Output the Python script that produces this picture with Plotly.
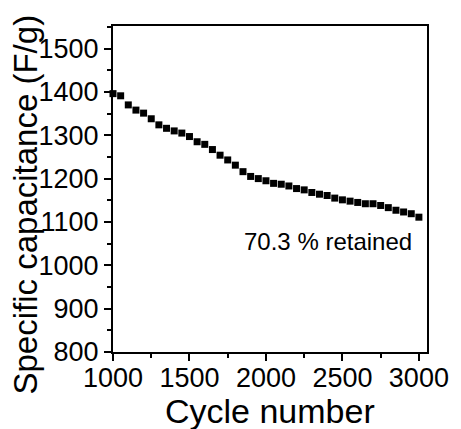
import plotly.graph_objects as go

cycles = [1000, 1050, 1100, 1150, 1200, 1250, 1300, 1350, 1400, 1450,
          1500, 1550, 1600, 1650, 1700, 1750, 1800, 1850, 1900, 1950,
          2000, 2050, 2100, 2150, 2200, 2250, 2300, 2350, 2400, 2450,
          2500, 2550, 2600, 2650, 2700, 2750, 2800, 2850, 2900, 2950, 3000]
capacitance = [1396, 1391, 1370, 1358, 1351, 1338, 1324, 1316, 1310, 1305,
               1297, 1285, 1279, 1267, 1254, 1243, 1231, 1216, 1205, 1200,
               1195, 1189, 1187, 1183, 1177, 1174, 1168, 1164, 1161, 1155,
               1151, 1148, 1145, 1142, 1142, 1138, 1133, 1127, 1123, 1119, 1111]
x_ticks = [1000, 1500, 2000, 2500, 3000]
y_ticks = [800, 900, 1000, 1100, 1200, 1300, 1400, 1500]

FONT = "Liberation Sans, Arial, sans-serif"

fig = go.Figure()
fig.add_trace(go.Scatter(
    x=cycles, y=capacitance, mode="markers",
    marker=dict(symbol="square", size=7, color="black", line=dict(width=0)),
    cliponaxis=False, showlegend=False,
))

axis_common = dict(
    showline=True, linecolor="black", linewidth=2, mirror=True,
    showgrid=False, zeroline=False,
    ticks="outside", ticklen=7, tickwidth=2, tickcolor="black",
    tickfont=dict(family=FONT, size=27, color="black"),
)

fig.update_xaxes(range=[1000, 3053], tickvals=x_ticks, ticklabelstandoff=-6,
                 minor=dict(ticks="outside", ticklen=4, tickwidth=2, tickcolor="black", dtick=250),
                 **axis_common)
fig.update_yaxes(range=[800, 1552], tickvals=y_ticks,
                 minor=dict(ticks="outside", ticklen=4, tickwidth=2, tickcolor="black", dtick=50),
                 **axis_common)

fig.add_annotation(x=2405, y=1054, xref="x", yref="y", text="70.3 % retained",
                   showarrow=False, font=dict(family=FONT, size=24, color="black"))
fig.add_annotation(x=274, y=411, xref="paper", yref="paper", text="Cycle number",
                   showarrow=False, font=dict(family=FONT, size=34, color="black"))
fig.add_annotation(x=22, y=205, xref="paper", yref="paper", text="Specific capacitance (F/g)",
                   textangle=-90, showarrow=False, font=dict(family=FONT, size=33, color="black"))

W, H = 461, 429
L, R, T, B = 113, 25, 26, 77
pw, ph = W - L - R, H - T - B
# convert pixel positions for paper annotations
for ann in fig.layout.annotations[1:]:
    px, py = ann.x, ann.y
    ann.x = (px - L) / pw
    ann.y = 1 - (py - T) / ph
    ann.xanchor = "center"
    ann.yanchor = "middle"

fig.update_layout(
    width=W, height=H,
    margin=dict(l=L, r=R, t=T, b=B, pad=0),
    plot_bgcolor="white", paper_bgcolor="white",
    font=dict(family=FONT, color="black"),
)

fig.write_html("out.html")
